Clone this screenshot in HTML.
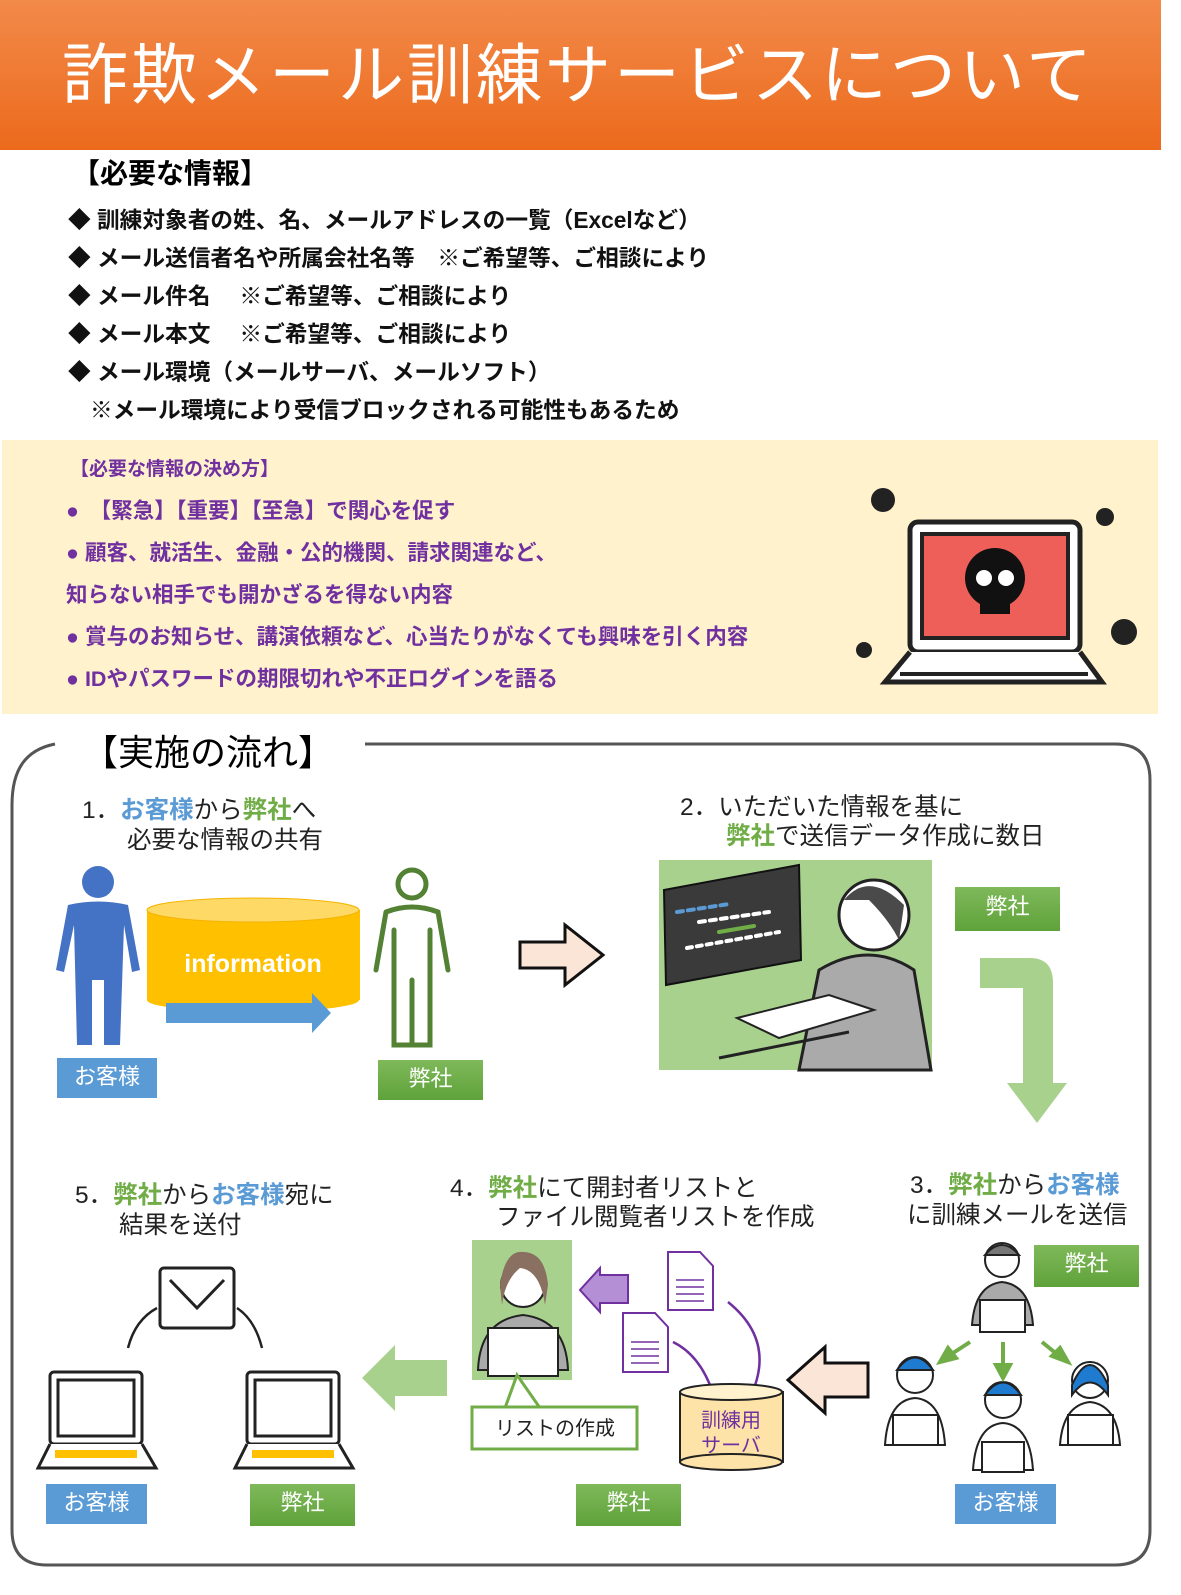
<!DOCTYPE html>
<html><head><meta charset="utf-8"><style>
*{margin:0;padding:0;box-sizing:border-box}
body{width:1181px;height:1595px;position:relative;background:#fff;font-family:"Liberation Sans","Noto Sans CJK JP",sans-serif;overflow:hidden}
.a{position:absolute;white-space:nowrap}
.hdr{left:0;top:0;width:1161px;height:150px;background:linear-gradient(#f28a4a,#ec6a1c);}
.b{font-weight:bold;font-size:22.7px;color:#111;left:68px}
.p{font-weight:bold;font-size:21.5px;color:#7030a0}
.lbl{color:#fff;font-size:22px;text-align:center;line-height:38px;height:40px}
.g{background:linear-gradient(#7fb95a,#5fa23a)}
.bl{background:#5b9bd5}
.t{font-size:24.5px;color:#222}
.gr{color:#70ad47;font-weight:bold}
.bu{color:#5b9bd5;font-weight:bold}
</style></head><body>
<div class="a hdr"></div>
<div class="a" style="left:62px;top:22px;font-size:66px;color:#fff;letter-spacing:3px">詐欺メール訓練サービスについて</div>
<div class="a" style="left:72px;top:152px;font-size:28px;font-weight:bold">【必要な情報】</div>
<div class="a b" style="top:202px">◆ 訓練対象者の姓、名、メールアドレスの一覧（Excelなど）</div>
<div class="a b" style="top:240px">◆ メール送信者名や所属会社名等　※ご希望等、ご相談により</div>
<div class="a b" style="top:278px">◆ メール件名　 ※ご希望等、ご相談により</div>
<div class="a b" style="top:316px">◆ メール本文　 ※ご希望等、ご相談により</div>
<div class="a b" style="top:354px">◆ メール環境（メールサーバ、メールソフト）</div>
<div class="a b" style="top:392px;left:90px">※メール環境により受信ブロックされる可能性もあるため</div>
<div class="a" style="left:2px;top:440px;width:1156px;height:274px;background:#fff2cc"></div>
<div class="a p" style="left:70px;top:454px;font-size:19px">【必要な情報の決め方】</div>
<div class="a p" style="left:66px;top:494px">●　【緊急】【重要】【至急】で関心を促す</div>
<div class="a p" style="left:66px;top:536px">●  顧客、就活生、金融・公的機関、請求関連など、</div>
<div class="a p" style="left:66px;top:578px">知らない相手でも開かざるを得ない内容</div>
<div class="a p" style="left:66px;top:620px">●  賞与のお知らせ、講演依頼など、心当たりがなくても興味を引く内容</div>
<div class="a p" style="left:66px;top:662px">●  IDやパスワードの期限切れや不正ログインを語る</div>
<svg class="a" style="left:840px;top:470px" width="320" height="230" viewBox="0 0 320 230">
<rect x="70" y="52" width="170" height="130" rx="8" fill="#fff" stroke="#222" stroke-width="5"/>
<rect x="82" y="64" width="146" height="104" fill="#ef5f5a" stroke="#222" stroke-width="4"/>
<path d="M70 182 L45 212 L262 212 L240 182" fill="#fff" stroke="#222" stroke-width="5"/>
<line x1="60" y1="204" x2="248" y2="204" stroke="#222" stroke-width="4"/>
<circle cx="155" cy="108" r="30" fill="#111"/><rect x="140" y="120" width="30" height="24" fill="#111"/>
<circle cx="144" cy="108" r="8" fill="#fff"/><circle cx="166" cy="108" r="8" fill="#fff"/>
<g fill="#222"><circle cx="43" cy="30" r="12"/><circle cx="265" cy="47" r="9"/><circle cx="284" cy="162" r="13"/><circle cx="24" cy="180" r="8"/></g>
</svg>
<svg class="a" style="left:0;top:730px" width="1181" height="865">
<path d="M55 14 C25 20 12 40 12 75 L12 800 Q12 835 47 835 L1115 835 Q1150 835 1150 800 L1150 50 Q1150 14 1115 14 L365 14" fill="none" stroke="#555" stroke-width="3"/>
</svg>
<div class="a" style="left:82px;top:724px;font-size:36px">【実施の流れ】</div>
<div class="a t" style="left:82px;top:791px">1．<span class="bu">お客様</span>から<span class="gr">弊社</span>へ</div>
<div class="a t" style="left:127px;top:821px">必要な情報の共有</div>
<svg class="a" style="left:50px;top:860px" width="420" height="200">
<circle cx="48" cy="22" r="16" fill="#4472c4"/>
<path d="M18 45 Q48 38 78 45 L90 110 L82 112 L74 65 L70 185 L54 185 L54 120 L42 120 L42 185 L27 185 L24 65 L14 112 L6 110 Z" fill="#4472c4"/>
<rect x="97" y="50" width="213" height="90" fill="#ffc000"/>
<ellipse cx="203" cy="140" rx="106" ry="12" fill="#ffc000"/>
<ellipse cx="203" cy="50" rx="106" ry="12" fill="#ffd966" stroke="#f4b400"/>
<text x="203" y="112" font-size="25" font-weight="bold" fill="#fff" text-anchor="middle" font-family="Liberation Sans">information</text>
<path d="M116 143 L262 143 L262 133 L281 153 L262 173 L262 163 L116 163 Z" fill="#5b9bd5"/>
<circle cx="362" cy="24" r="14" fill="none" stroke="#548235" stroke-width="5"/>
<path d="M336 52 Q362 42 388 52 L398 110 M336 52 L326 110 M344 70 L344 185 L380 185 L380 70 M362 120 L362 183" fill="none" stroke="#548235" stroke-width="5" stroke-linecap="round"/>
</svg>
<div class="a lbl bl" style="left:57px;top:1058px;width:100px">お客様</div>
<div class="a lbl g" style="left:378px;top:1060px;width:105px">弊社</div>
<svg class="a" style="left:515px;top:920px" width="95" height="70"><path d="M5 22 L50 22 L50 5 L88 35 L50 65 L50 48 L5 48 Z" fill="#fbe5d6" stroke="#111" stroke-width="3"/></svg>
<div class="a t" style="left:680px;top:788px">2．いただいた情報を基に</div>
<div class="a t" style="left:726px;top:817px"><span class="gr">弊社</span>で送信データ作成に数日</div>
<svg class="a" style="left:659px;top:860px" width="275" height="212">
<rect width="273" height="210" fill="#a9d18e"/>
<polygon points="5,30 140,5 142,100 7,125" fill="#3a3a3a" stroke="#111" stroke-width="2"/>
<g stroke-width="4" stroke-linecap="round"><line x1="18" y1="52" x2="70" y2="44" stroke="#5b9bd5" stroke-dasharray="6 5"/><line x1="40" y1="62" x2="110" y2="52" stroke="#fff" stroke-dasharray="6 5"/><line x1="28" y1="88" x2="120" y2="72" stroke="#fff" stroke-dasharray="5 5"/><line x1="60" y1="72" x2="95" y2="66" stroke="#70ad47"/></g>
<circle cx="215" cy="55" r="35" fill="#fff" stroke="#222" stroke-width="3"/>
<path d="M185 40 Q210 10 245 45 L240 80 Q230 60 210 40 Z" fill="#4a4a4a"/>
<path d="M160 110 Q210 80 255 110 L272 210 L140 210 Z" fill="#aaa" stroke="#222" stroke-width="3"/>
<polygon points="78,158 170,135 215,150 120,178" fill="#fff" stroke="#222" stroke-width="2"/>
<line x1="60" y1="198" x2="190" y2="172" stroke="#222" stroke-width="3"/>
</svg>
<div class="a lbl g" style="left:955px;top:887px;width:105px;height:44px;line-height:40px">弊社</div>
<svg class="a" style="left:975px;top:958px" width="100" height="170"><path d="M5 0 L55 0 Q78 0 78 25 L78 125 L92 125 L62 165 L32 125 L48 125 L48 30 L5 30 Z" fill="#a9d18e"/></svg>
<div class="a t" style="left:910px;top:1166px">3．<span class="gr">弊社</span>から<span class="bu">お客様</span></div>
<div class="a t" style="left:907px;top:1196px">に訓練メールを送信</div>
<div class="a t" style="left:450px;top:1169px">4．<span class="gr">弊社</span>にて開封者リストと</div>
<div class="a t" style="left:496px;top:1198px">ファイル閲覧者リストを作成</div>
<div class="a t" style="left:75px;top:1176px">5．<span class="gr">弊社</span>から<span class="bu">お客様</span>宛に</div>
<div class="a t" style="left:119px;top:1206px">結果を送付</div>
<svg class="a" style="left:0;top:1230px" width="1181" height="260">
<g stroke="#222" stroke-width="2">
<circle cx="1002" cy="30" r="17" fill="#fff"/><path d="M985 25 Q1002 5 1019 25 Z" fill="#777"/>
<path d="M972 95 Q975 55 1002 52 Q1030 55 1033 95 Z" fill="#aaa"/><rect x="980" y="70" width="45" height="32" fill="#fff"/>
<g fill="#fff"><circle cx="915" cy="145" r="18"/><path d="M885 215 Q888 170 915 168 Q942 170 945 215 Z"/><rect x="893" y="185" width="45" height="30"/>
<circle cx="1003" cy="170" r="18"/><path d="M973 240 Q976 195 1003 193 Q1030 195 1033 240 Z"/><rect x="982" y="212" width="42" height="30"/>
<circle cx="1090" cy="150" r="18"/><path d="M1060 215 Q1063 175 1090 172 Q1117 175 1120 215 Z"/><rect x="1068" y="185" width="45" height="30"/></g>
<path d="M897 140 Q915 115 933 140 Z M985 165 Q1003 140 1021 165 Z M1072 155 Q1090 115 1108 155 L1108 165 Q1090 140 1072 165 Z" fill="#1f7bd0"/>
</g>
<g stroke="#70ad47" stroke-width="4" fill="#70ad47"><line x1="970" y1="112" x2="950" y2="125"/><polygon points="940,132 948,118 956,128"/><line x1="1003" y1="112" x2="1003" y2="135"/><polygon points="996,135 1010,135 1003,148"/><line x1="1042" y1="112" x2="1058" y2="125"/><polygon points="1068,132 1052,126 1060,118"/></g>
<path d="M868 133 L825 133 L825 117 L788 150 L825 183 L825 167 L868 167 Z" fill="#fbe5d6" stroke="#111" stroke-width="3"/>
<rect x="472" y="10" width="100" height="140" fill="#a9d18e"/>
<circle cx="523" cy="55" r="22" fill="#fff" stroke="#222" stroke-width="2"/><path d="M500 55 Q505 20 523 22 Q545 22 548 55 L545 75 Q540 40 520 38 Q505 50 502 75 Z" fill="#8a7060"/>
<path d="M478 140 Q480 90 523 85 Q566 90 568 140 Z" fill="#aaa" stroke="#222" stroke-width="2"/>
<rect x="488" y="98" width="70" height="48" fill="#fff" stroke="#222" stroke-width="2"/>
<path d="M628 45 L600 45 L600 38 L580 60 L600 82 L600 73 L628 73 Z" fill="#b48fd6" stroke="#7030a0" stroke-width="2"/>
<g fill="#fff" stroke="#7030a0" stroke-width="2"><path d="M668 22 L700 22 L713 36 L713 80 L668 80 Z"/><path d="M623 83 L655 83 L668 97 L668 142 L623 142 Z"/></g>
<g stroke="#7030a0" stroke-width="1.5"><line x1="676" y1="50" x2="704" y2="50"/><line x1="676" y1="57" x2="704" y2="57"/><line x1="676" y1="64" x2="704" y2="64"/><line x1="676" y1="71" x2="704" y2="71"/><line x1="631" y1="112" x2="659" y2="112"/><line x1="631" y1="119" x2="659" y2="119"/><line x1="631" y1="126" x2="659" y2="126"/><line x1="631" y1="133" x2="659" y2="133"/></g>
<path d="M752 163 Q775 110 728 72 M713 163 Q700 125 673 112" fill="none" stroke="#7030a0" stroke-width="2.5"/>
<rect x="680" y="162" width="103" height="70" fill="#fde3a7" stroke="#222" stroke-width="2"/>
<ellipse cx="731" cy="232" rx="51" ry="8" fill="#fde3a7" stroke="#222" stroke-width="2"/>
<ellipse cx="731" cy="162" rx="51" ry="8" fill="#fff2cc" stroke="#222" stroke-width="2"/>
<text x="731" y="197" font-size="20" fill="#7030a0" text-anchor="middle">訓練用</text><text x="731" y="222" font-size="20" fill="#7030a0" text-anchor="middle">サーバ</text>
<path d="M505 178 L517 145 L540 178" fill="#fff" stroke="#70ad47" stroke-width="3"/>
<rect x="472" y="177" width="165" height="42" fill="#fff" stroke="#70ad47" stroke-width="3"/>
<text x="555" y="205" font-size="20" text-anchor="middle" fill="#222">リストの作成</text>
<path d="M447 130 L395 130 L395 115 L362 148 L395 181 L395 166 L447 166 Z" fill="#a9d18e"/>
<rect x="160" y="38" width="74" height="60" rx="4" fill="#fff" stroke="#222" stroke-width="3"/>
<path d="M170 50 L197 78 L224 50" fill="none" stroke="#222" stroke-width="3"/>
<path d="M157 78 Q135 90 128 118 M237 78 Q255 90 262 118" fill="none" stroke="#222" stroke-width="2.5"/>
<g stroke="#222" stroke-width="3" fill="#fff">
<rect x="50" y="142" width="92" height="72" rx="4"/><rect x="58" y="150" width="76" height="56"/><path d="M50 214 L38 238 L156 238 L142 214"/>
<rect x="247" y="142" width="92" height="72" rx="4"/><rect x="255" y="150" width="76" height="56"/><path d="M247 214 L235 238 L353 238 L339 214"/></g>
<rect x="55" y="220" width="82" height="8" fill="#ffc000"/><rect x="252" y="220" width="82" height="8" fill="#ffc000"/>
</svg>
<div class="a lbl g" style="left:1034px;top:1245px;width:105px;height:42px">弊社</div>
<div class="a lbl bl" style="left:46px;top:1484px;width:101px">お客様</div>
<div class="a lbl g" style="left:250px;top:1484px;width:105px;height:42px">弊社</div>
<div class="a lbl g" style="left:576px;top:1484px;width:105px;height:42px">弊社</div>
<div class="a lbl bl" style="left:955px;top:1484px;width:101px">お客様</div>
</body></html>
